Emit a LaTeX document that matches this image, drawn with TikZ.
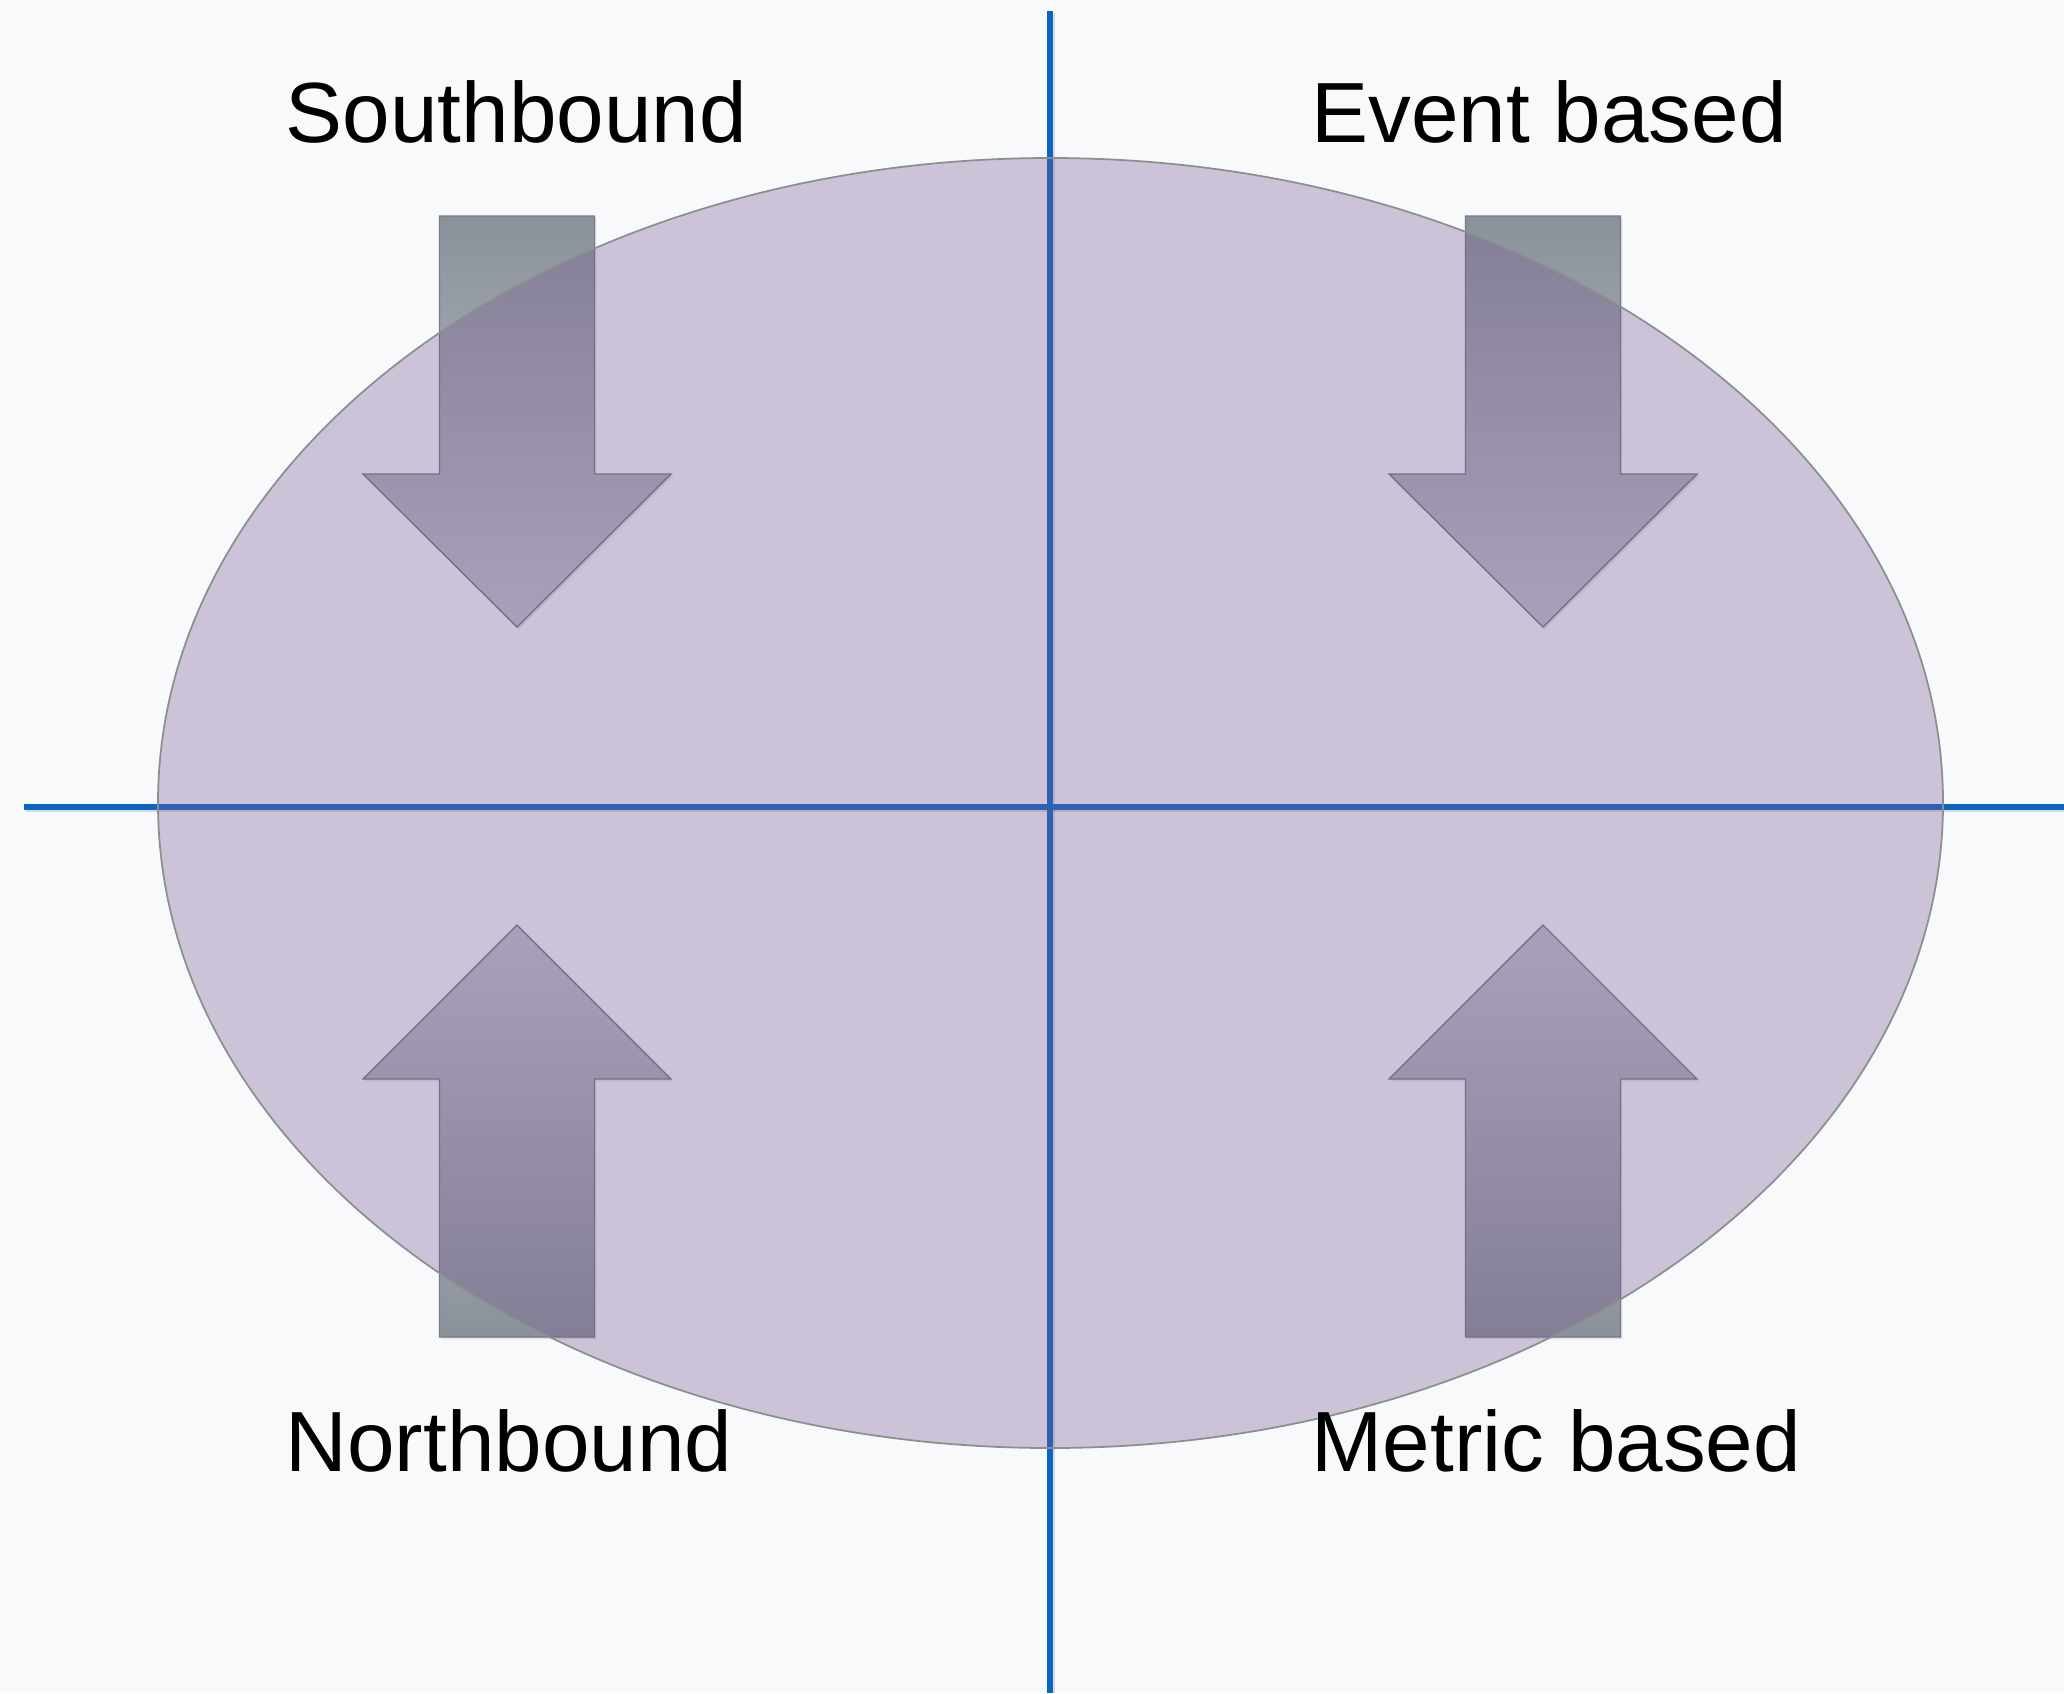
\documentclass[tikz,border=0pt]{standalone}
\usepackage{fontspec}
\setmainfont{Liberation Sans}
\usetikzlibrary{shadows}
\definecolor{bgc}{HTML}{F8F9FB}
\definecolor{ellfill}{HTML}{765891}
\definecolor{elldraw}{HTML}{8A9090}
\definecolor{axisc}{HTML}{0A66C2}
\definecolor{agdark}{HTML}{8A9299}
\definecolor{aglight}{HTML}{C5C4CE}
\definecolor{arrowline}{HTML}{7B7590}
\tikzset{
  axisline/.style={draw=axisc, line width=1.5pt},
  axisshadow/.style={draw=black, draw opacity=0.12, line width=1.8pt},
  arrowbody/.style={draw=arrowline, line width=0.4pt, line join=miter,
    drop shadow={shadow xshift=0.5pt, shadow yshift=-0.7pt, opacity=0.18}},
  downshade/.style={top color=agdark, bottom color=aglight},
  upshade/.style={top color=aglight, bottom color=agdark},
  label/.style={font=\fontsize{24.3pt}{29pt}\selectfont, anchor=base west, inner sep=0pt, text=black},
}
\begin{document}
\begin{tikzpicture}[x=0.01cm, y=-0.01cm]
\fill[bgc] (0,0) rectangle (2064,1693);
\useasboundingbox (0,0) rectangle (2064,1693);
% axes
\coordinate (vtop) at (1050,11);
\coordinate (vbot) at (1050,1693);
\coordinate (hleft) at (24,807);
\coordinate (hright) at (2064,807);
\coordinate (vtops) at (1052,13);
\coordinate (vbots) at (1052,1693);
\coordinate (hlefts) at (26,809);
\coordinate (hrights) at (2064,809);
\draw[axisshadow] (vtops) -- (vbots);
\draw[axisshadow] (hlefts) -- (hrights);
\draw[axisline] (vtop) -- (vbot);
\draw[axisline] (hleft) -- (hright);
% arrows
\path[arrowbody, downshade] (439.5,216) -- (594.5,216) -- (594.5,474) -- (671,474) -- (517,627) -- (363,474) -- (439.5,474) -- cycle;
\path[arrowbody, downshade] (1465.5,216) -- (1620.5,216) -- (1620.5,474) -- (1697,474) -- (1543,627) -- (1389,474) -- (1465.5,474) -- cycle;
\path[arrowbody, upshade] (439.5,1337) -- (594.5,1337) -- (594.5,1079) -- (671,1079) -- (517,925) -- (363,1079) -- (439.5,1079) -- cycle;
\path[arrowbody, upshade] (1465.5,1337) -- (1620.5,1337) -- (1620.5,1079) -- (1697,1079) -- (1543,925) -- (1389,1079) -- (1465.5,1079) -- cycle;
% ellipse
\path[fill=ellfill, fill opacity=0.33, draw=elldraw, line width=0.5pt] (1050.5,803) ellipse [x radius=892.5, y radius=645];
% labels
\node[label] (sb) at (285,142) {Southbound};
\node[label] (eb) at (1311,142) {Event based};
\node[label] (nb) at (285,1471) {Northbound};
\node[label] (mb) at (1311,1471) {Metric based};
\end{tikzpicture}
\end{document}
